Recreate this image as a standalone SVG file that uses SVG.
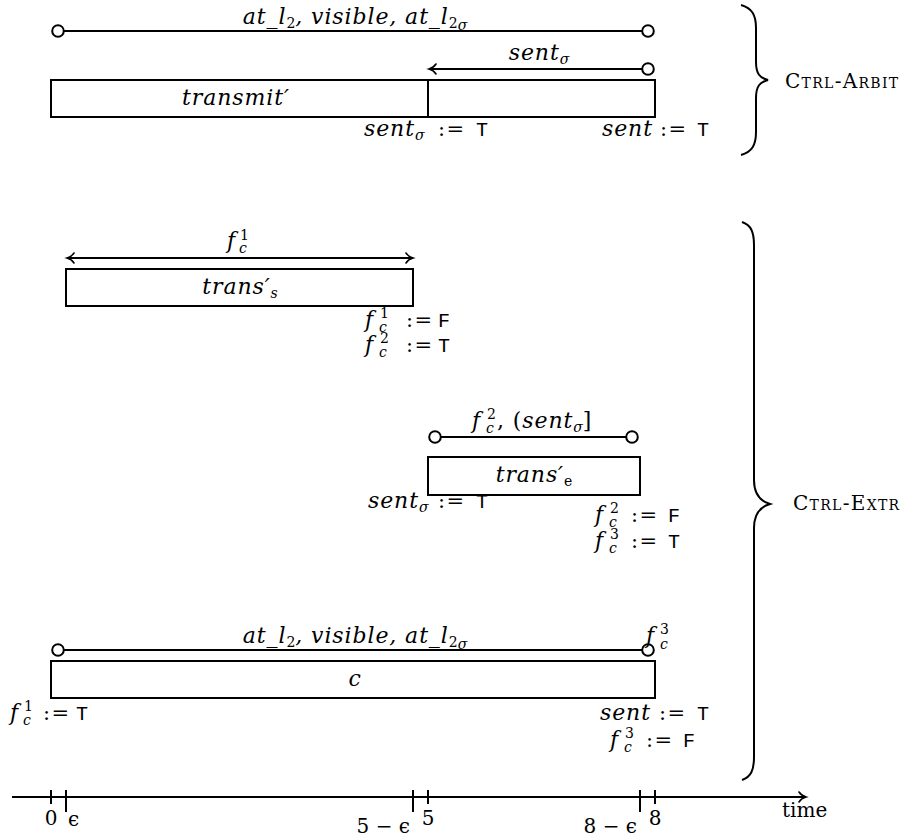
<svg xmlns="http://www.w3.org/2000/svg" width="919" height="838" viewBox="0 0 919 838">
<style>
text{font-family:"DejaVu Serif","Liberation Serif",serif;font-size:20px;fill:#000}
.m{font-style:italic;font-size:22px;letter-spacing:0.9px}
.s{font-size:14px;letter-spacing:0}
.up{font-style:normal}
.op{font-style:normal;font-size:21px;letter-spacing:1.5px}
.tt{font-family:"Liberation Mono","DejaVu Sans Mono",monospace;font-style:normal;font-size:20px;letter-spacing:0}
.sc{font-variant:small-caps;font-size:20px;letter-spacing:1.3px}
.ax{font-size:20px}
.box{fill:#fff;stroke:#000;stroke-width:2}
.ln{fill:none;stroke:#000;stroke-width:2}
.tick{stroke:#000;stroke-width:2}
</style>
<defs>
<marker id="circ" viewBox="-8 -8 16 16" markerWidth="16" markerHeight="16" refX="0" refY="0" markerUnits="userSpaceOnUse" overflow="visible">
<circle cx="0" cy="0" r="5.8" fill="#fff" stroke="#000" stroke-width="2"/>
</marker>
<marker id="arr" viewBox="-9 -6 11 12" markerWidth="11" markerHeight="12" refX="0" refY="0" orient="auto-start-reverse" markerUnits="userSpaceOnUse" overflow="visible">
<path d="M-7,-5 C-5,-1.8 -2,-0.6 0,0 C-2,0.6 -5,1.8 -7,5" fill="none" stroke="#000" stroke-width="1.6" stroke-linecap="round"/>
</marker>
</defs>

<g id="connectors">
<line class="ln" x1="58" y1="31" x2="648" y2="31" marker-start="url(#circ)" marker-end="url(#circ)"/>
<line class="ln" x1="648" y1="69" x2="429" y2="69" marker-start="url(#circ)" marker-end="url(#arr)"/>
<line class="ln" x1="67" y1="258" x2="413" y2="258" marker-start="url(#arr)" marker-end="url(#arr)"/>
<line class="ln" x1="435" y1="437" x2="632" y2="437" marker-start="url(#circ)" marker-end="url(#circ)"/>
<line class="ln" x1="58" y1="650" x2="648" y2="650" marker-start="url(#circ)" marker-end="url(#circ)"/>
</g>

<g id="arbit-labels">
<text class="m" x="355" y="24" text-anchor="middle">at_l<tspan class="s up" dy="4">2</tspan><tspan dy="-4">, visible, at_l</tspan><tspan class="s up" dy="4">2</tspan><tspan class="s" dy="2">σ</tspan></text>
<text class="m" x="539" y="60" text-anchor="middle">sent<tspan class="s" dy="4">σ</tspan></text>
</g>

<g id="transmit">
<rect class="box" x="51" y="80" width="604" height="37"/>
<line class="ln" x1="428" y1="80" x2="428" y2="117"/>
<text class="m" x="236" y="105" text-anchor="middle">transmit′</text>
<text class="m" x="364" y="136">sent<tspan class="s" dy="4">σ</tspan><tspan class="op" x="438" y="136">:=</tspan><tspan class="tt" x="476">T</tspan></text>
<text class="m" x="602" y="136">sent<tspan class="op" x="660">:=</tspan><tspan class="tt" x="697">T</tspan></text>
</g>

<g id="ctrl-arbit">
<path class="ln" d="M741,5 C752,8 756,15 756,28 L756,62 C756,74 760,78 768,80 C760,82 756,86 756,98 L756,132 C756,145 752,152 741,155"/>
<text class="sc" x="785" y="88">Ctrl-Arbit</text>
</g>

<g id="trans-s">
<text class="m" x="227" y="248">f<tspan class="s up" x="240" y="240">1</tspan><tspan class="s" x="239" y="253">c</tspan></text>
<rect class="box" x="66" y="269" width="347" height="37"/>
<text class="m" x="240" y="294" text-anchor="middle">trans′<tspan class="s" dy="4">s</tspan></text>
<text class="m" x="365" y="327">f<tspan class="s up" x="380" y="318">1</tspan><tspan class="s" x="379" y="332">c</tspan><tspan class="op" x="406" y="327">:=</tspan><tspan class="tt" x="438">F</tspan></text>
<text class="m" x="365" y="352">f<tspan class="s up" x="380" y="343">2</tspan><tspan class="s" x="379" y="357">c</tspan><tspan class="op" x="406" y="352">:=</tspan><tspan class="tt" x="438">T</tspan></text>
</g>

<g id="trans-e">
<text class="m" x="472" y="428">f<tspan class="s up" x="487" y="419">2</tspan><tspan class="s" x="486" y="433">c</tspan><tspan class="up" x="497" y="428">, (</tspan>sent<tspan class="s" dy="4">σ</tspan><tspan class="up" dy="-4">]</tspan></text>
<rect class="box" x="428" y="457" width="212" height="38"/>
<text class="m" x="534" y="482" text-anchor="middle">trans′<tspan class="s up" dy="4">e</tspan></text>
<text class="m" x="368" y="508">sent<tspan class="s" dy="4">σ</tspan><tspan class="op" x="438" y="508">:=</tspan><tspan class="tt" x="476">T</tspan></text>
<text class="m" x="595" y="522">f<tspan class="s up" x="610" y="513">2</tspan><tspan class="s" x="609" y="527">c</tspan><tspan class="op" x="631" y="522">:=</tspan><tspan class="tt" x="668">F</tspan></text>
<text class="m" x="595" y="548">f<tspan class="s up" x="610" y="539">3</tspan><tspan class="s" x="609" y="553">c</tspan><tspan class="op" x="631" y="548">:=</tspan><tspan class="tt" x="668">T</tspan></text>
</g>

<g id="c">
<text class="m" x="355" y="643" text-anchor="middle">at_l<tspan class="s up" dy="4">2</tspan><tspan dy="-4">, visible, at_l</tspan><tspan class="s up" dy="4">2</tspan><tspan class="s" dy="2">σ</tspan></text>
<text class="m" x="646" y="643">f<tspan class="s up" x="660" y="634">3</tspan><tspan class="s" x="660" y="649">c</tspan></text>
<rect class="box" x="51" y="661" width="604" height="37"/>
<text class="m" x="355" y="686" text-anchor="middle">c</text>
<text class="m" x="10" y="720">f<tspan class="s up" x="24" y="711">1</tspan><tspan class="s" x="23" y="725">c</tspan><tspan class="op" x="43" y="720">:=</tspan><tspan class="tt" x="76">T</tspan></text>
<text class="m" x="600" y="720">sent<tspan class="op" x="659">:=</tspan><tspan class="tt" x="697">T</tspan></text>
<text class="m" x="610" y="747">f<tspan class="s up" x="625" y="738">3</tspan><tspan class="s" x="624" y="752">c</tspan><tspan class="op" x="646" y="747">:=</tspan><tspan class="tt" x="683">F</tspan></text>
</g>

<g id="ctrl-extr">
<path class="ln" d="M742,222 C751,225 754,232 754,245 L754,480 C754,494 760,501 770,504 C760,507 754,514 754,528 L754,757 C754,770 751,777 742,780"/>
<text class="sc" x="793" y="510">Ctrl-Extr</text>
</g>

<g id="axis">
<line class="ln" x1="12" y1="797" x2="806" y2="797" marker-end="url(#arr)"/>
<line class="tick" x1="51" y1="790" x2="51" y2="804"/>
<line class="tick" x1="66" y1="790" x2="66" y2="812"/>
<line class="tick" x1="413" y1="790" x2="413" y2="812"/>
<line class="tick" x1="428" y1="790" x2="428" y2="804"/>
<line class="tick" x1="640" y1="790" x2="640" y2="812"/>
<line class="tick" x1="655" y1="790" x2="655" y2="804"/>
<text class="ax" x="51" y="825" text-anchor="middle">0</text>
<text class="ax" x="68" y="826">ϵ</text>
<text class="ax" x="410" y="833" text-anchor="end">5 − ϵ</text>
<text class="ax" x="428" y="825" text-anchor="middle">5</text>
<text class="ax" x="637" y="833" text-anchor="end">8 − ϵ</text>
<text class="ax" x="655" y="825" text-anchor="middle">8</text>
<text class="ax" x="782" y="817">time</text>
</g>
</svg>
